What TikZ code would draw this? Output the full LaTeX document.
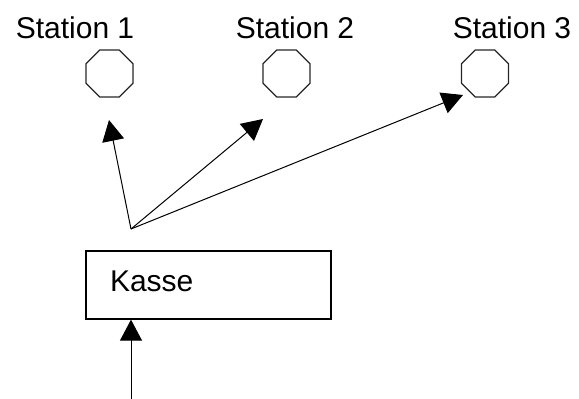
\documentclass[tikz,border=0pt]{standalone}
\usepackage{fontspec}
\setmainfont{Liberation Sans}
\usetikzlibrary{shapes.geometric,arrows.meta}
\begin{document}
\begin{tikzpicture}[x=1pt,y=1pt,
  station/.style={draw=black!85,line width=1.2pt,regular polygon,regular polygon sides=8,
    minimum size=50.9pt,inner sep=0pt},
  stlabel/.style={anchor=base,inner sep=0pt,font=\fontsize{30}{36}\selectfont},
  kassebox/.style={draw,line width=1.3pt,rectangle,text width=197pt,align=left,
    inner xsep=24pt,inner ysep=0pt,minimum height=68pt,text depth=8pt,
    font=\fontsize{30}{36}\selectfont},
  arr/.style={line width=1pt,-{Triangle[length=21pt,width=22pt]}}]
  \useasboundingbox (0,0) rectangle (579,399);

  % stations with their labels
  \node[station] (st1) at (109.5,325.5) {};
  \node[station] (st2) at (286.5,325.5) {};
  \node[station] (st3) at (485,325.5) {};
  \node[stlabel] (l1) at (75,360) {Station 1};
  \node[stlabel] (l2) at (295,360) {Station 2};
  \node[stlabel] (l3) at (512,360) {Station 3};

  % cash desk
  \node[kassebox] (kasse) at (208.5,114) {Kasse};

  % fan-out point and arrow ends near the stations
  \coordinate (fan) at (131,170);
  \coordinate (t1) at ([shift={(-0.5,-46.5)}]st1.center);
  \coordinate (t2) at ([shift={(-23.5,-45.5)}]st2.center);
  \coordinate (t3) at ([shift={(-22,-21.5)}]st3.center);
  \coordinate (src) at (131,0);

  \draw[arr] (fan) -- (t1);
  \draw[arr] (fan) -- (t2);
  \draw[arr] (fan) -- (t3);
  \draw[arr] (src) -- (src |- kasse.south);
\end{tikzpicture}
\end{document}
